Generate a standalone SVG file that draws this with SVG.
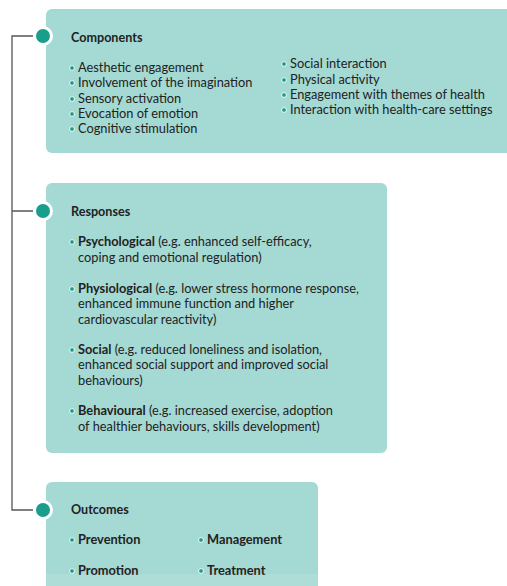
<svg xmlns="http://www.w3.org/2000/svg" width="507" height="586" viewBox="0 0 507 586">
<style>
.box{fill:#a5d9d3}
.hub{fill:#1a9e8c;stroke:#fff;stroke-width:3}
.dot{fill:#1a9e8c;stroke:#fff;stroke-width:0.9}
.t{font-family:Lato,"Open Sans","Liberation Sans",sans-serif;font-size:12.8px;fill:#222}
.h{font-weight:bold;font-size:12.6px}
.b{font-weight:bold}
.conn{fill:none;stroke:#555;stroke-width:1.3}
</style>
<rect width="507" height="586" fill="#fff"/>
<g id="connectors">
<path class="conn" d="M33,36 H12 V510 H33 M12,211 H33"/>
</g>
<g id="components">
<rect class="box" x="46" y="9" width="470" height="144" rx="6"/>
<circle class="hub" cx="43" cy="36" r="8.5"/>
<text class="t h" x="71" y="42">Components</text>
<g class="t">
<circle class="dot" cx="72" cy="68" r="2.4"/><text x="78" y="72">Aesthetic engagement</text>
<circle class="dot" cx="72" cy="83" r="2.4"/><text x="78" y="87">Involvement of the imagination</text>
<circle class="dot" cx="72" cy="99" r="2.4"/><text x="78" y="103">Sensory activation</text>
<circle class="dot" cx="72" cy="114" r="2.4"/><text x="78" y="118">Evocation of emotion</text>
<circle class="dot" cx="72" cy="129" r="2.4"/><text x="78" y="133">Cognitive stimulation</text>
<circle class="dot" cx="284" cy="64" r="2.4"/><text x="290" y="68">Social interaction</text>
<circle class="dot" cx="284" cy="80" r="2.4"/><text x="290" y="84">Physical activity</text>
<circle class="dot" cx="284" cy="95" r="2.4"/><text x="290" y="99">Engagement with themes of health</text>
<circle class="dot" cx="284" cy="110" r="2.4"/><text x="290" y="114">Interaction with health-care settings</text>
</g>
</g>
<g id="responses">
<rect class="box" x="46" y="183" width="341" height="270" rx="6"/>
<circle class="hub" cx="43" cy="211" r="8.5"/>
<text class="t h" x="71" y="216">Responses</text>
<g class="t">
<circle class="dot" cx="72" cy="242" r="2.4"/><text x="78" y="246"><tspan class="b">Psychological</tspan> (e.g. enhanced self-efficacy,</text>
<text x="78" y="262">coping and emotional regulation)</text>
<circle class="dot" cx="72" cy="289" r="2.4"/><text x="78" y="293"><tspan class="b">Physiological</tspan> (e.g. lower stress hormone response,</text>
<text x="78" y="308">enhanced immune function and higher</text>
<text x="78" y="324">cardiovascular reactivity)</text>
<circle class="dot" cx="72" cy="350" r="2.4"/><text x="78" y="354"><tspan class="b">Social</tspan> (e.g. reduced loneliness and isolation,</text>
<text x="78" y="369">enhanced social support and improved social</text>
<text x="78" y="385">behaviours)</text>
<circle class="dot" cx="72" cy="411" r="2.4"/><text x="78" y="415"><tspan class="b">Behavioural</tspan> (e.g. increased exercise, adoption</text>
<text x="78" y="431">of healthier behaviours, skills development)</text>
</g>
</g>
<g id="outcomes">
<rect class="box" x="46" y="482" width="272" height="120" rx="6"/>
<circle class="hub" cx="43" cy="510" r="8.5"/>
<text class="t h" x="71" y="514">Outcomes</text>
<g class="t b">
<circle class="dot" cx="72" cy="540" r="2.4"/><text x="78" y="544">Prevention</text>
<circle class="dot" cx="72" cy="571" r="2.4"/><text x="78" y="575">Promotion</text>
<circle class="dot" cx="201" cy="540" r="2.4"/><text x="207" y="544">Management</text>
<circle class="dot" cx="201" cy="571" r="2.4"/><text x="207" y="575">Treatment</text>
</g>
</g>
<rect x="0" y="574" width="507" height="12" fill="#fff" opacity="0.1"/>
</svg>
